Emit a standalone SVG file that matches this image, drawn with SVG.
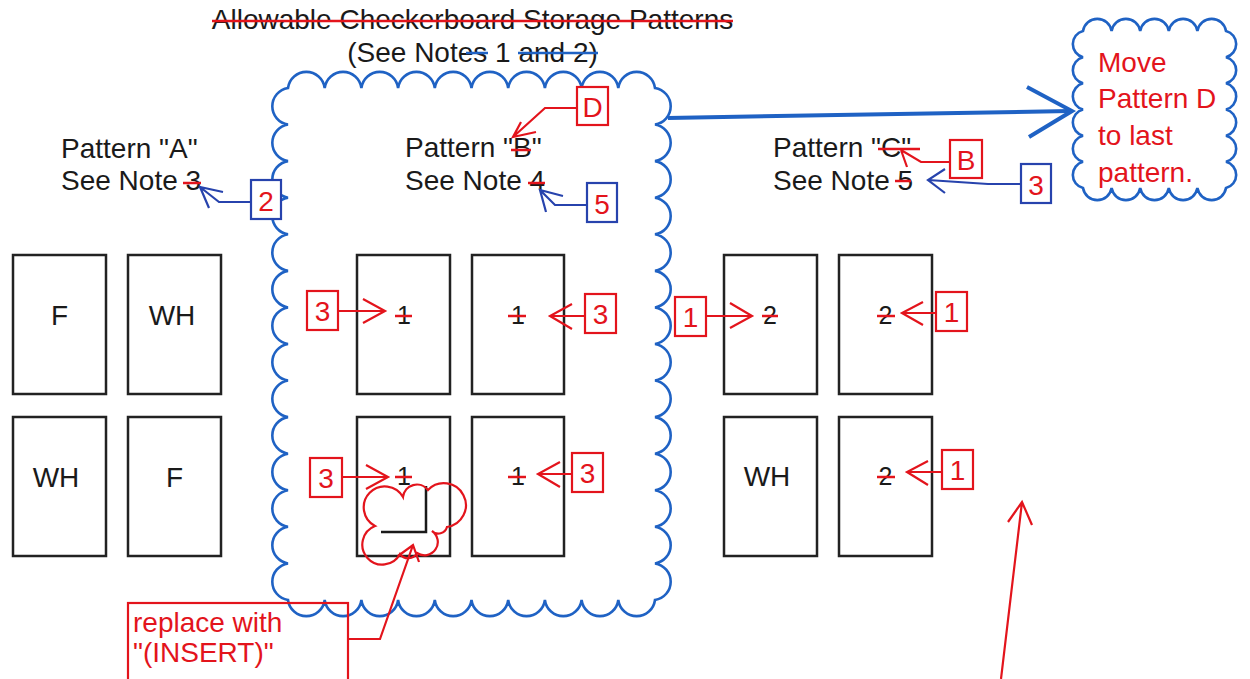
<svg xmlns="http://www.w3.org/2000/svg" width="1250" height="679" viewBox="0 0 1250 679">
<style>
text{font-family:"Liberation Sans",Arial,sans-serif;font-size:28px}
.blk{fill:#1a1a1a}
.red{fill:#e3141c}
.rect{fill:none;stroke:#222;stroke-width:2.5}
.rbox{fill:#fff;stroke:#e3141c;stroke-width:2.2}
.bbox{fill:#fff;stroke:#2743ad;stroke-width:2.2}
.rl{fill:none;stroke:#e3141c;stroke-width:2.2;stroke-linejoin:miter}
.bl{fill:none;stroke:#2743ad;stroke-width:2.2}
.strike{stroke:#e3141c;stroke-width:2.5}
.bstrike{stroke:#1f62c4;stroke-width:2.5}
.cloud{fill:none;stroke:#1f62c4;stroke-width:2.6}
.mid{text-anchor:middle}
</style>
<rect width="1250" height="679" fill="#fff"/>

<g id="title">
<text class="blk mid" x="472.5" y="29">Allowable Checkerboard Storage Patterns</text>
<line class="strike" x1="212" y1="21" x2="733" y2="21"/>
<text class="blk mid" x="472.5" y="62">(See Notes 1 and 2)</text>
<line class="bstrike" x1="466" y1="53" x2="488" y2="53"/>
<line class="bstrike" x1="518" y1="53" x2="598" y2="53"/>
</g>

<g id="cloud-main">
<path class="cloud" d="M288 88 a18.5 18.5 0 0 1 36.7 0 a18.5 18.5 0 0 1 36.7 0 a18.5 18.5 0 0 1 36.7 0 a18.5 18.5 0 0 1 36.7 0 a18.5 18.5 0 0 1 36.7 0 a18.5 18.5 0 0 1 36.7 0 a18.5 18.5 0 0 1 36.7 0 a18.5 18.5 0 0 1 36.7 0 a18.5 18.5 0 0 1 36.7 0 a18.5 18.5 0 0 1 36.7 0
a18.5 18.5 0 0 1 0 36.57 a18.5 18.5 0 0 1 0 36.57 a18.5 18.5 0 0 1 0 36.57 a18.5 18.5 0 0 1 0 36.57 a18.5 18.5 0 0 1 0 36.57 a18.5 18.5 0 0 1 0 36.57 a18.5 18.5 0 0 1 0 36.57 a18.5 18.5 0 0 1 0 36.57 a18.5 18.5 0 0 1 0 36.57 a18.5 18.5 0 0 1 0 36.57 a18.5 18.5 0 0 1 0 36.57 a18.5 18.5 0 0 1 0 36.57 a18.5 18.5 0 0 1 0 36.57 a18.5 18.5 0 0 1 0 36.57
a18.5 18.5 0 0 1 -36.7 0 a18.5 18.5 0 0 1 -36.7 0 a18.5 18.5 0 0 1 -36.7 0 a18.5 18.5 0 0 1 -36.7 0 a18.5 18.5 0 0 1 -36.7 0 a18.5 18.5 0 0 1 -36.7 0 a18.5 18.5 0 0 1 -36.7 0 a18.5 18.5 0 0 1 -36.7 0 a18.5 18.5 0 0 1 -36.7 0 a18.5 18.5 0 0 1 -36.7 0
a18.5 18.5 0 0 1 0 -36.57 a18.5 18.5 0 0 1 0 -36.57 a18.5 18.5 0 0 1 0 -36.57 a18.5 18.5 0 0 1 0 -36.57 a18.5 18.5 0 0 1 0 -36.57 a18.5 18.5 0 0 1 0 -36.57 a18.5 18.5 0 0 1 0 -36.57 a18.5 18.5 0 0 1 0 -36.57 a18.5 18.5 0 0 1 0 -36.57 a18.5 18.5 0 0 1 0 -36.57 a18.5 18.5 0 0 1 0 -36.57 a18.5 18.5 0 0 1 0 -36.57 a18.5 18.5 0 0 1 0 -36.57 a18.5 18.5 0 0 1 0 -36.57 Z"/>
</g>

<g id="cloud-move">
<path class="cloud" d="M1083 31 a14.5 14.5 0 0 1 28.6 0 a14.5 14.5 0 0 1 28.6 0 a14.5 14.5 0 0 1 28.6 0 a14.5 14.5 0 0 1 28.6 0 a14.5 14.5 0 0 1 28.6 0
a13.5 13.5 0 0 1 0 26.17 a13.5 13.5 0 0 1 0 26.17 a13.5 13.5 0 0 1 0 26.17 a13.5 13.5 0 0 1 0 26.17 a13.5 13.5 0 0 1 0 26.17 a13.5 13.5 0 0 1 0 26.17
a14.5 14.5 0 0 1 -28.6 0 a14.5 14.5 0 0 1 -28.6 0 a14.5 14.5 0 0 1 -28.6 0 a14.5 14.5 0 0 1 -28.6 0 a14.5 14.5 0 0 1 -28.6 0
a13.5 13.5 0 0 1 0 -26.17 a13.5 13.5 0 0 1 0 -26.17 a13.5 13.5 0 0 1 0 -26.17 a13.5 13.5 0 0 1 0 -26.17 a13.5 13.5 0 0 1 0 -26.17 a13.5 13.5 0 0 1 0 -26.17 Z"/>
<text class="red" x="1098" y="72">Move</text>
<text class="red" x="1098" y="108">Pattern D</text>
<text class="red" x="1098" y="145">to last</text>
<text class="red" x="1098" y="182">pattern.</text>
</g>

<g id="pattern-a-label">
<text class="blk" x="61" y="158">Pattern "A"</text>
<text class="blk" x="61" y="190">See Note 3</text>
<line class="strike" x1="183" y1="183" x2="201" y2="183"/>
</g>
<g id="pattern-b-label">
<text class="blk" x="405" y="157">Pattern "B"</text>
<text class="blk" x="405" y="190">See Note 4</text>
<line class="strike" x1="511" y1="150" x2="531" y2="150"/>
<line class="strike" x1="528" y1="183" x2="545" y2="183"/>
</g>
<g id="pattern-c-label">
<text class="blk" x="773" y="157">Pattern "C"</text>
<text class="blk" x="773" y="190">See Note 5</text>
<line class="strike" x1="878" y1="149" x2="920" y2="149"/>
<line class="strike" x1="895" y1="181" x2="911" y2="181"/>
</g>

<g id="pattern-a">
<rect class="rect" x="13" y="255" width="93" height="139"/>
<text class="blk mid" x="59.5" y="325">F</text>
<rect class="rect" x="128" y="255" width="93" height="139"/>
<text class="blk mid" x="172" y="325">WH</text>
<rect class="rect" x="13" y="417" width="93" height="139"/>
<text class="blk mid" x="56" y="487">WH</text>
<rect class="rect" x="128" y="417" width="93" height="139"/>
<text class="blk mid" x="174.5" y="487">F</text>
</g>

<g id="pattern-b">
<rect class="rect" x="357" y="255" width="93" height="139"/>
<text class="blk mid" x="404" y="324" style="font-size:25px">1</text>
<line class="strike" x1="395" y1="316" x2="412" y2="316"/>
<rect class="rect" x="472" y="255" width="92" height="139"/>
<text class="blk mid" x="518" y="324" style="font-size:25px">1</text>
<line class="strike" x1="508" y1="316" x2="526" y2="316"/>
<rect class="rect" x="357" y="417" width="93" height="139"/>
<text class="blk mid" x="404" y="485" style="font-size:25px">1</text>
<line class="strike" x1="395" y1="477" x2="412" y2="477"/>
<rect class="rect" x="472" y="417" width="92" height="139"/>
<text class="blk mid" x="518" y="485" style="font-size:25px">1</text>
<line class="strike" x1="508" y1="477" x2="526" y2="477"/>
<path d="M426 486 L426 532 L381 532" fill="none" stroke="#1a1a1a" stroke-width="2.5"/>
</g>

<g id="pattern-c">
<rect class="rect" x="724" y="255" width="93" height="139"/>
<text class="blk mid" x="770" y="324" style="font-size:25px">2</text>
<line class="strike" x1="762" y1="316" x2="778" y2="316"/>
<rect class="rect" x="839" y="255" width="93" height="139"/>
<text class="blk mid" x="885.5" y="324" style="font-size:25px">2</text>
<line class="strike" x1="877" y1="316" x2="895" y2="316"/>
<rect class="rect" x="724" y="417" width="93" height="139"/>
<text class="blk mid" x="767" y="486">WH</text>
<rect class="rect" x="839" y="417" width="93" height="139"/>
<text class="blk mid" x="885.5" y="485" style="font-size:25px">2</text>
<line class="strike" x1="877" y1="477" x2="895" y2="477"/>
</g>

<g id="insert-cloud">
<path class="rl" d="M375 526 A21 21 0 1 1 403 497 A14 14 0 0 1 428 490 A22 22 0 1 1 447 527 A9 9 0 0 1 432 531 A13 13 0 0 1 417 553 A10 10 0 0 1 400 554 A20 20 0 1 1 375 526 Z"/>
</g>

<g id="connectors">
<path d="M668 118 L1070 111" fill="none" stroke="#1f62c4" stroke-width="4"/>
<path d="M1027 87 L1072 111 L1029 137" fill="none" stroke="#1f62c4" stroke-width="4"/>
<path class="bl" d="M251 202 L219 202 L200 187 M223 192 L200 187 L209 208"/>
<path class="rl" d="M577 108 L545 108 L513 137 M536 132 L513 137 L521 122"/>
<path class="bl" d="M587 205 L555 205 L540 190 M563 196 L540 190 L546 212"/>
<path class="rl" d="M950 162 L921 162 L901 150 M907 167 L901 150"/>
<path class="bl" d="M1021 184 L988 184 L928 180 M945 169 L928 180 L945 193"/>
<path class="rl" d="M338 311 L385 311 M363 299 L385 311 L363 323"/>
<path class="rl" d="M585 316 L550 316 M572 304 L550 316 L572 329"/>
<path class="rl" d="M342 477 L388 477 M366 465 L388 477 L366 489"/>
<path class="rl" d="M572 474 L538 474 M560 462 L538 474 L560 487"/>
<path class="rl" d="M706 316 L752 316 M730 303 L752 316 L730 328"/>
<path class="rl" d="M936 313 L902 313 M923 302 L902 313 L923 325"/>
<path class="rl" d="M942 472 L907 472 M928 461 L907 472 L928 485"/>
<path class="rl" d="M348 639 L380 639 L413 545 M398 556 L413 545 L419 562"/>
<path class="rl" d="M1001 679 L1022 502 M1008 522 L1022 502 L1032 525"/>
</g>

<g id="box-2"><rect class="bbox" x="251" y="180" width="30" height="39"/><text class="red mid" x="266" y="211">2</text></g>
<g id="box-D"><rect class="rbox" x="577" y="87" width="31" height="38"/><text class="red mid" x="592.5" y="117">D</text></g>
<g id="box-5"><rect class="bbox" x="587" y="183" width="30" height="39"/><text class="red mid" x="602" y="214">5</text></g>
<g id="box-B"><rect class="rbox" x="950" y="140" width="32" height="38"/><text class="red mid" x="966" y="170">B</text></g>
<g id="box-3-blue"><rect class="bbox" x="1021" y="164" width="30" height="39"/><text class="red mid" x="1036" y="195">3</text></g>
<g id="box-3-a"><rect class="rbox" x="307" y="291" width="31" height="39"/><text class="red mid" x="322.5" y="321">3</text></g>
<g id="box-3-b"><rect class="rbox" x="585" y="294" width="31" height="39"/><text class="red mid" x="600.5" y="324">3</text></g>
<g id="box-3-c"><rect class="rbox" x="310" y="458" width="32" height="39"/><text class="red mid" x="326" y="488">3</text></g>
<g id="box-3-d"><rect class="rbox" x="572" y="453" width="31" height="39"/><text class="red mid" x="587.5" y="483">3</text></g>
<g id="box-1-a"><rect class="rbox" x="675" y="297" width="31" height="39"/><text class="red mid" x="690.5" y="327">1</text></g>
<g id="box-1-b"><rect class="rbox" x="936" y="292" width="31" height="39"/><text class="red mid" x="951.5" y="322">1</text></g>
<g id="box-1-c"><rect class="rbox" x="942" y="450" width="31" height="39"/><text class="red mid" x="957.5" y="480">1</text></g>

<g id="replace-note">
<rect class="rbox" x="128" y="603" width="220" height="82" fill="none" style="fill:none"/>
<text class="red" x="133" y="632">replace with</text>
<text class="red" x="133" y="662">"(INSERT)"</text>
</g>
</svg>
